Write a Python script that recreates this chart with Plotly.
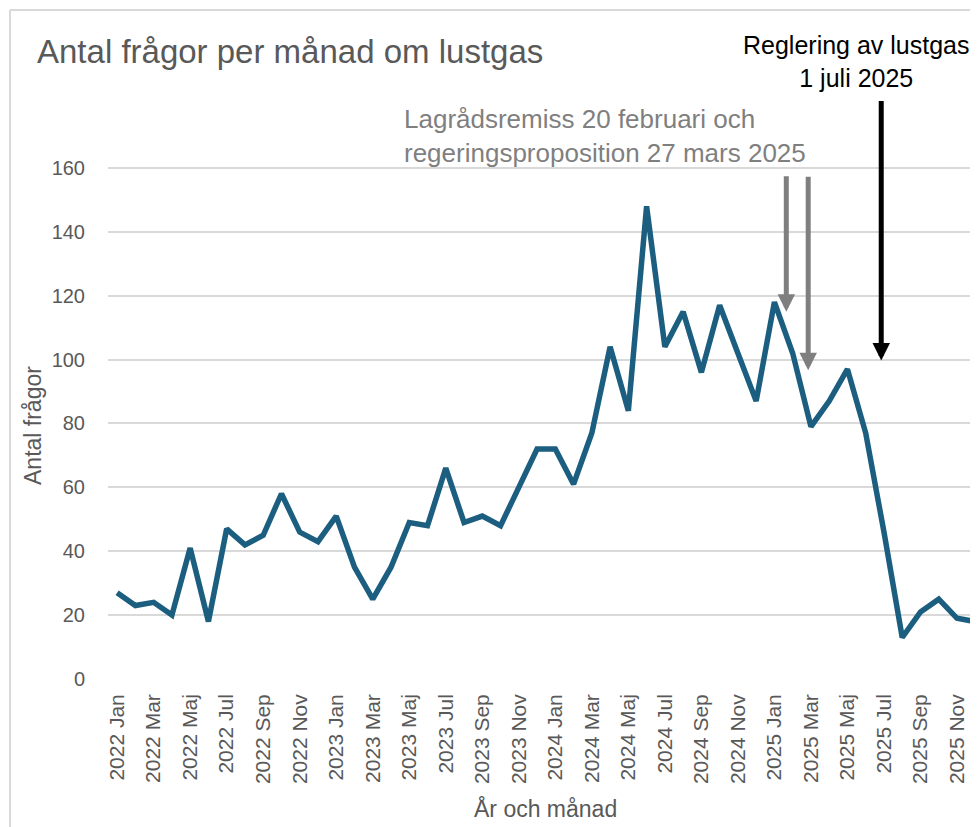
import plotly.graph_objects as go

# ---- data ----
months = ["Jan", "Feb", "Mar", "Apr", "Maj", "Jun", "Jul", "Aug", "Sep", "Okt", "Nov", "Dec"]
years = [2022, 2023, 2024, 2025]
labels = [f"{y} {m}" for y in years for m in months]
counts = [27, 23, 24, 20, 41, 18, 47, 42, 45, 58, 46, 43,
          51, 35, 25, 35, 49, 48, 66, 49, 51, 48, 60, 72,
          72, 61, 77, 104, 84, 148, 104, 115, 96, 117, 102, 87,
          118, 102, 79, 87, 97, 77, 46, 13, 21, 25, 19, 18]
tick_labels = labels[::2]

title_text = "Antal frågor per månad om lustgas"
y_title = "Antal frågor"
x_title = "År och månad"
note_gray = "Lagrådsremiss 20 februari och<br>regeringsproposition 27 mars 2025"
note_black = "Reglering av lustgas<br>1 juli 2025"

# ---- layout geometry (page pixels; page body has an 8px margin) ----
O = 8
W, H = 978 - O, 827 - O
PL, PR, PT, PB = 108, 978, 136, 679      # plot area in page coordinates
L, T = PL - O, PT - O
R = W - (PR - O)
B = H - (PB - O)
PW, PH = PR - PL, PB - PT


def px(x):
    return (x - PL) / PW


def py(y):
    return (PB - y) / PH


LINE = "#1b5e7f"
GRID = "#d9d9d9"
TXT = "#595959"
GRAY = "#7f7f7f"
FONT = "Liberation Sans, Arial, sans-serif"

fig = go.Figure()
fig.add_trace(go.Scatter(
    x=labels, y=counts, mode="lines",
    line=dict(color=LINE, width=5.5),
    hoverinfo="x+y", showlegend=False,
))

annotations = [
    dict(text=title_text, x=px(35), y=py(52), xref="paper", yref="paper",
         xanchor="left", yanchor="middle", showarrow=False,
         font=dict(family=FONT, size=33, color=TXT)),
    dict(text=note_black, x=px(856), y=py(62), xref="paper", yref="paper",
         xanchor="center", yanchor="middle", showarrow=False, align="center",
         font=dict(family=FONT, size=25, color="#000000")),
    dict(text=note_gray, x=px(402), y=py(136), xref="paper", yref="paper",
         xanchor="left", yanchor="middle", showarrow=False, align="left",
         font=dict(family=FONT, size=26, color=GRAY)),
    dict(text=y_title, x=px(33), y=py(426), xref="paper", yref="paper",
         xanchor="center", yanchor="middle", showarrow=False, textangle=-90,
         font=dict(family=FONT, size=23, color=TXT)),
    dict(text=x_title, x=px(545), y=py(808), xref="paper", yref="paper",
         xanchor="center", yanchor="middle", showarrow=False,
         font=dict(family=FONT, size=23, color=TXT)),
    # arrows
    dict(text="", x=36.65, y=115, xref="x", yref="y", ax=0, ay=-137,
         showarrow=True, arrowhead=2, arrowsize=0.7, arrowwidth=5,
         arrowcolor=GRAY, standoff=0),
    dict(text="", x=37.85, y=96.7, xref="x", yref="y", ax=0, ay=-195,
         showarrow=True, arrowhead=2, arrowsize=0.7, arrowwidth=5,
         arrowcolor=GRAY, standoff=0),
    dict(text="", x=41.85, y=99.7, xref="x", yref="y", ax=0, ay=-261,
         showarrow=True, arrowhead=2, arrowsize=0.7, arrowwidth=5,
         arrowcolor="#000000", standoff=0),
]

shapes = [
    dict(type="line", xref="paper", yref="paper", x0=px(10), x1=px(10),
         y0=py(10), y1=py(840), line=dict(color=GRID, width=2)),
    dict(type="line", xref="paper", yref="paper", x0=px(10), x1=px(990),
         y0=py(10), y1=py(10), line=dict(color=GRID, width=2)),
]

fig.update_layout(
    width=W, height=H,
    margin=dict(l=L, r=R, t=T, b=B, pad=0),
    paper_bgcolor="white", plot_bgcolor="white",
    font=dict(family=FONT, color=TXT),
    annotations=annotations, shapes=shapes,
    xaxis=dict(
        type="category", range=[-0.5, 47.15],
        tickmode="array", tickvals=tick_labels, ticktext=tick_labels,
        tickangle=-90, tickfont=dict(size=21, color=TXT),
        showgrid=False, showline=False, zeroline=False, ticks="",
        ticklabelstandoff=10,
    ),
    yaxis=dict(
        range=[0, 170], tickvals=[0, 20, 40, 60, 80, 100, 120, 140, 160],
        tickfont=dict(size=20, color=TXT),
        showgrid=True, gridcolor=GRID, gridwidth=2,
        zeroline=False, showline=False, ticks="",
        ticklabelstandoff=22,
    ),
)

fig.write_html("out.html")
